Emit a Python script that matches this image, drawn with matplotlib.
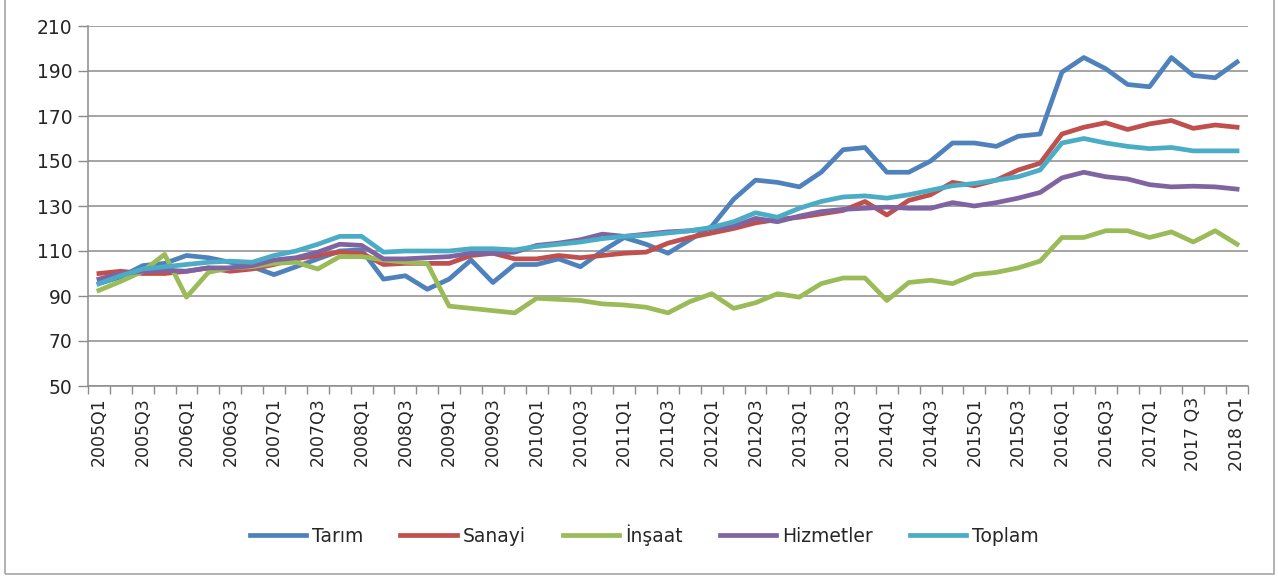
import matplotlib
matplotlib.use("Agg")
import matplotlib.pyplot as plt
from matplotlib.patches import Rectangle
from matplotlib.ticker import FixedLocator

# quarterly index values, 2005Q1 .. 2018Q1
tarim = [95.5, 98.5, 103.5, 104.5, 108, 107, 105, 103, 99.5, 103, 106.5, 110, 110.5, 97.5,
         99, 93, 97.5, 106, 96, 104, 104, 106.5, 103, 110, 116, 113, 109, 115, 121, 133,
         141.5, 140.5, 138.5, 145, 155, 156, 145, 145, 150, 158, 158, 156.5, 161, 162,
         189.5, 196, 191, 184, 183, 196, 188, 187, 194]
sanayi = [100, 101, 100, 100, 101, 102.5, 101, 102, 104, 106.5, 108, 109.5, 109, 104,
          104.5, 104.5, 104.5, 108, 109, 106.5, 106.5, 108, 107, 108, 109, 109.5, 113.5,
          116, 118, 120, 122.5, 124, 125, 126.5, 128, 132, 126, 132.5, 135, 140.5, 139,
          141.5, 146, 149, 162, 165, 167, 164, 166.5, 168, 164.5, 166, 165]
insaat = [92.5, 96.5, 101, 108.5, 89.5, 100.5, 102.5, 103, 104.5, 105, 102, 107.5, 107.5,
          106, 105, 104.5, 85.5, 84.5, 83.5, 82.5, 89, 88.5, 88, 86.5, 86, 85, 82.5, 87.5,
          91, 84.5, 87, 91, 89.5, 95.5, 98, 98, 88, 96, 97, 95.5, 99.5, 100.5, 102.5,
          105.5, 116, 116, 119, 119, 116, 118.5, 114, 119, 113]
hizmetler = [97.5, 100, 101, 101.5, 101, 102.5, 102.5, 103.5, 106, 107, 109.5, 113, 112.5,
             106.5, 106.5, 107, 107.5, 109, 109, 109.5, 112.5, 113.5, 115, 117.5, 116.5,
             117.5, 118.5, 119, 120, 121, 124.5, 123, 125.5, 127.5, 128.5, 129, 129.5, 129,
             129, 131.5, 130, 131.5, 133.5, 136, 142.5, 145, 143, 142, 139.5, 138.5, 138.8,
             138.5, 137.5]
toplam = [95.5, 99, 102, 103, 104, 105, 105.5, 105, 108, 110, 113, 116.5, 116.5, 109.5,
          110, 110, 110, 111, 111, 110.5, 112, 113, 114, 115.5, 116.5, 117, 118, 119, 120.5,
          123, 127, 125, 129, 132, 134, 134.5, 133.5, 135, 137, 139, 140, 141.5, 143, 146,
          158, 160, 158, 156.5, 155.5, 156, 154.5, 154.5, 154.5]

tick_labels = ["2005Q1", "2005Q3", "2006Q1", "2006Q3", "2007Q1", "2007Q3", "2008Q1",
               "2008Q3", "2009Q1", "2009Q3", "2010Q1", "2010Q3", "2011Q1", "2011Q3",
               "2012Q1", "2012Q3", "2013Q1", "2013Q3", "2014Q1", "2014Q3", "2015Q1",
               "2015Q3", "2016Q1", "2016Q3", "2017Q1", "2017 Q3", "2018 Q1"]

series = [("Tarım", tarim, "#4F81BD"),
          ("Sanayi", sanayi, "#C0504D"),
          ("İnşaat", insaat, "#9BBB59"),
          ("Hizmetler", hizmetler, "#8064A2"),
          ("Toplam", toplam, "#4BACC6")]

fig = plt.figure(figsize=(12.78, 5.77), dpi=100)
ax = fig.add_axes([88 / 1278, 1 - 386 / 577, 1160 / 1278, 360 / 577])

x = list(range(len(tarim)))
for name, vals, col in series:
    ax.plot(x, vals, color=col, lw=3.4, label=name, solid_joinstyle="round")

ax.set_ylim(50, 210)
ax.set_yticks(range(50, 211, 20))
ax.set_xlim(-0.5, len(x) - 0.5)
ax.grid(axis="y", color="#8c8c8c", lw=1.1)
ax.set_axisbelow(True)

ax.set_xticks(range(0, len(x), 2))
ax.set_xticklabels(tick_labels, rotation=90)
ax.xaxis.set_minor_locator(FixedLocator([i - 0.5 for i in range(len(x) + 1)]))
ax.tick_params(axis="x", which="major", length=0, pad=8, labelsize=12.5, labelcolor="#262626")
ax.tick_params(axis="x", which="minor", length=6, color="#8c8c8c", width=1)
ax.tick_params(axis="y", length=7, color="#8c8c8c", width=1, labelsize=13.5,
               labelcolor="#262626", pad=4)

for s in ["top", "right"]:
    ax.spines[s].set_visible(False)
for s in ["left", "bottom"]:
    ax.spines[s].set_color("#8c8c8c")
    ax.spines[s].set_linewidth(1.1)

fig.legend(loc="center", bbox_to_anchor=(0.504, 1 - 535 / 577), ncol=5, frameon=False,
           fontsize=13.5, handlelength=3.0, handletextpad=0.3, columnspacing=2.0,
           labelcolor="#262626")

fig.patches.append(Rectangle((5 / 1278, 3 / 577), 1269 / 1278, 1.1, transform=fig.transFigure,
                             fill=False, edgecolor="#a6a6a6", lw=1.2))

fig.savefig("out.png", dpi=100)
